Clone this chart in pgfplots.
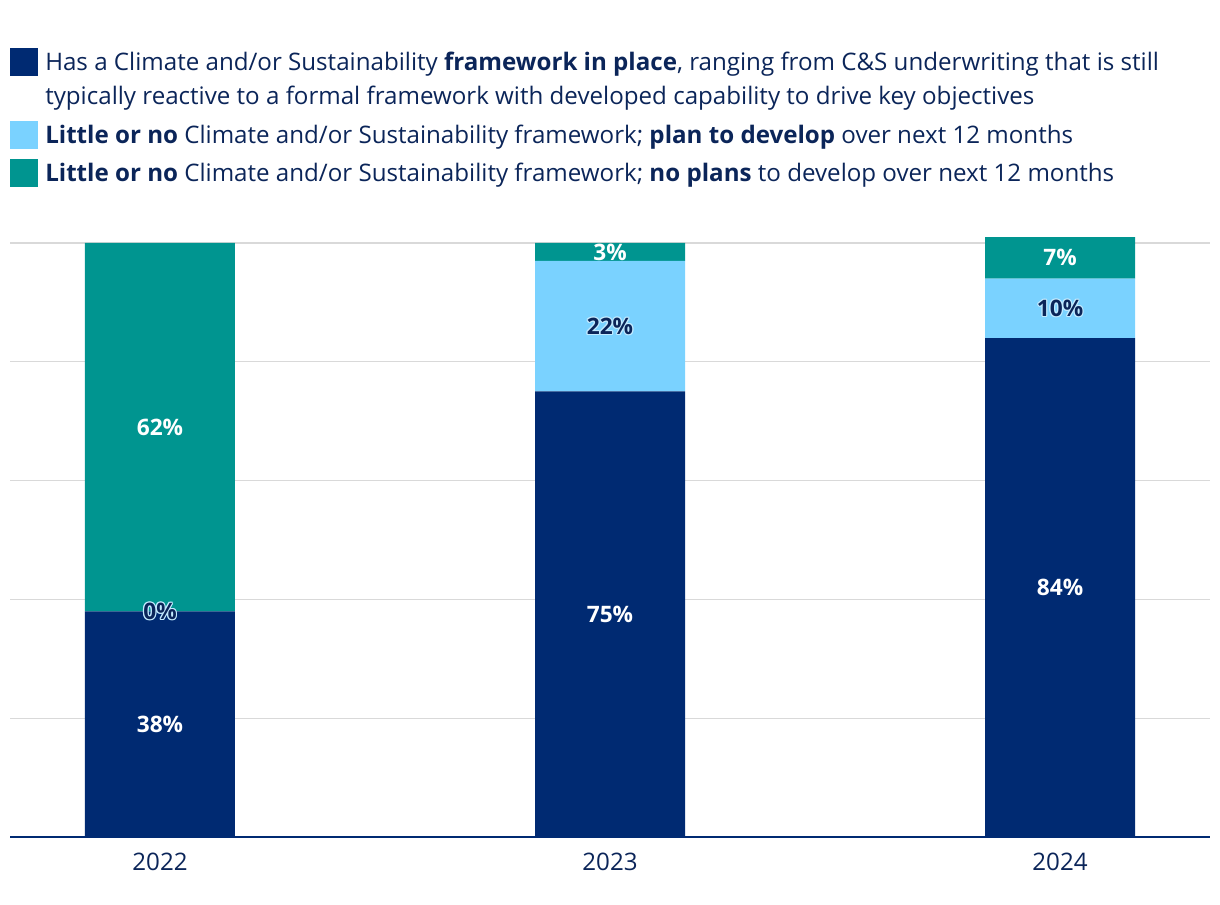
\documentclass[border=0pt]{standalone}
\usepackage{pgfplots}
\pgfplotsset{compat=1.18}
\usepackage{pgfplotstable}
\usepackage{fontspec}
\IfFontExistsTF{Noto Sans Bold}{\setmainfont{Noto Sans}[BoldFont={Noto Sans Bold}]}{\setmainfont{Open Sans}}
\definecolor{cnavy}{HTML}{002A72}
\definecolor{clight}{HTML}{7AD2FF}
\definecolor{cteal}{HTML}{009590}
\definecolor{ctext}{HTML}{0B2559}
\definecolor{cgrid}{HTML}{D9D9D9}
\newcommand{\glow}[3]{\leavevmode
  \rlap{\color{#1}\hspace*{0.9pt}#3}\rlap{\color{#1}\hspace*{-0.9pt}#3}%
  \rlap{\color{#1}\raisebox{0.9pt}{#3}}\rlap{\color{#1}\raisebox{-0.9pt}{#3}}%
  \rlap{\color{#1}\hspace*{0.65pt}\raisebox{0.65pt}{#3}}\rlap{\color{#1}\hspace*{-0.65pt}\raisebox{0.65pt}{#3}}%
  \rlap{\color{#1}\hspace*{0.65pt}\raisebox{-0.65pt}{#3}}\rlap{\color{#1}\hspace*{-0.65pt}\raisebox{-0.65pt}{#3}}%
  {\color{#2}#3}}

\pgfplotstableread{
x a b c
0 38 0 62
1 75 22 3
2 84 10 7
}\data

\begin{document}
\begin{tikzpicture}
% legend
\fill[cnavy] (7.5pt,621pt) rectangle (28.5pt,642pt);
\fill[clight] (7.5pt,566.25pt) rectangle (28.5pt,587.25pt);
\fill[cteal] (7.5pt,537.75pt) rectangle (28.5pt,558.75pt);
\begin{scope}[every node/.style={anchor=base west, inner sep=0pt, text=ctext, font=\fontsize{18.1pt}{21pt}\selectfont}]
\node at (33.75pt,624.8pt) {Has a Climate and/or Sustainability \textbf{framework in place}, ranging from C\&S underwriting that is still};
\node at (33.75pt,599.3pt) {typically reactive to a formal framework with developed capability to drive key objectives};
\node at (33.75pt,570pt) {\textbf{Little or no} Climate and/or Sustainability framework; \textbf{plan to develop} over next 12 months};
\node at (33.75pt,541.5pt) {\textbf{Little or no} Climate and/or Sustainability framework; \textbf{no plans} to develop over next 12 months};
\end{scope}
\begin{axis}[
  at={(7.5pt,50.25pt)}, anchor=south west,
  scale only axis, width=900pt, height=445.5pt,
  set layers, mark layer=axis foreground,
  ybar stacked, bar width=112.5pt,
  xmin=-0.3333, xmax=2.3333, ymin=0, ymax=100,
  enlargelimits=false, clip=false,
  axis x line*=bottom, axis y line*=left,
  x axis line style={draw=cnavy, line width=1.5pt},
  y axis line style={draw=none},
  xtick=data, xticklabels={2022,2023,2024},
  major tick length=0pt,
  xticklabel style={text=ctext, font=\fontsize{18.1pt}{21pt}\selectfont, yshift=-8.5pt},
  ytick={20,40,60,80,100}, yticklabel=\empty,
  ymajorgrids, grid style={cgrid, line width=1pt},
  /pgf/number format/assume math mode=true,
]
\addplot[fill=cnavy, draw=none,
  visualization depends on={\thisrow{a} \as \rawy},
  nodes near coords={\pgfmathprintnumber{\rawy}\%},
  every node near coord/.append style={anchor=center, text=white, font=\fontsize{17pt}{20pt}\selectfont\bfseries}
] table[x=x,y=a] {\data};
\addplot[fill=clight, draw=none,
  visualization depends on={\thisrow{b} \as \rawy},
  nodes near coords={\glow{clight!45!white}{ctext}{\pgfmathprintnumber{\rawy}\%}},
  every node near coord/.append style={anchor=center, text=ctext, font=\fontsize{17pt}{20pt}\selectfont\bfseries}
] table[x=x,y=b] {\data};
\addplot[fill=cteal, draw=none,
  visualization depends on={\thisrow{c} \as \rawy},
  nodes near coords={\pgfmathprintnumber{\rawy}\%},
  every node near coord/.append style={anchor=center, text=white, font=\fontsize{17pt}{20pt}\selectfont\bfseries}
] table[x=x,y=c] {\data};
% label of the zero-height segment (2022, second series), at the top of the first segment
\addplot[forget plot, stack plots=false, draw=none, fill=none,
  skip coords between index={1}{3},
  point meta=explicit,
  visualization depends on={\thisrow{a} \as \rawa},
  nodes near coords={\glow{clight!45!white}{ctext}{\pgfmathprintnumber{\pgfplotspointmeta}\%}},
  every node near coord/.append style={anchor=center, text=ctext, font=\fontsize{17pt}{20pt}\selectfont\bfseries, shift={(axis direction cs:0,\rawa/2)}}
] table[x=x,y=a,meta=b] {\data};
\end{axis}
\path (0,0) rectangle (915pt,678pt);
\end{tikzpicture}
\end{document}
